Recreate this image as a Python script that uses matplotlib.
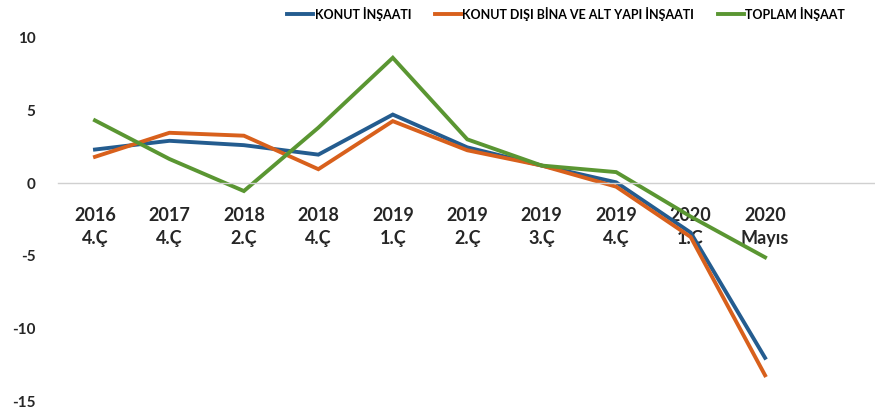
import matplotlib
matplotlib.use("Agg")
import matplotlib.pyplot as plt

categories = ["2016\n4.Ç", "2017\n4.Ç", "2018\n2.Ç", "2018\n4.Ç", "2019\n1.Ç",
              "2019\n2.Ç", "2019\n3.Ç", "2019\n4.Ç", "2020\n1.Ç", "2020\nMayıs"]
konut = [2.3, 2.9, 2.6, 1.95, 4.7, 2.45, 1.2, 0.05, -3.4, -12.0]
konut_disi = [1.8, 3.45, 3.25, 0.95, 4.25, 2.25, 1.2, -0.25, -3.7, -13.2]
toplam = [4.3, 1.65, -0.55, 3.8, 8.6, 3.0, 1.2, 0.75, -2.3, -5.1]
series_names = ["KONUT İNŞAATI", "KONUT DIŞI BİNA VE ALT YAPI İNŞAATI", "TOPLAM İNŞAAT"]
yticks = [-15, -10, -5, 0, 5, 10]

plt.rcParams['font.family'] = ['Lato', 'DejaVu Sans']

fig = plt.figure(figsize=(8.75, 4.2), dpi=100)
ax = fig.add_axes([0.066, 0.044, 0.936, 0.867])

x = list(range(len(categories)))
colors = ["#245C8F", "#D8601C", "#5A9632"]
for vals, name, c in zip([konut, konut_disi, toplam], series_names, colors):
    ax.plot(x, vals, color=c, lw=2.8, label=name, solid_joinstyle='miter')

for s in ['top', 'right', 'left']:
    ax.spines[s].set_visible(False)
ax.spines['bottom'].set_position(('data', 0))
ax.spines['bottom'].set_color('#d0d0d0')
ax.spines['bottom'].set_linewidth(1.0)

ax.set_xlim(-0.5, 10.5)
ax.set_ylim(-15, 10)
ax.set_yticks(yticks)
ax.set_yticklabels([str(v) for v in yticks])
ax.set_xticks(x)
ax.set_xticklabels(categories)
ax.tick_params(axis='x', length=0, pad=17)
ax.tick_params(axis='y', length=0, pad=16)
for lab in ax.get_xticklabels():
    lab.set_fontsize(13)
    lab.set_fontweight('bold')
    lab.set_color('#262626')
    lab.set_linespacing(1.45)
for lab in ax.get_yticklabels():
    lab.set_fontsize(11)
    lab.set_fontweight('bold')
    lab.set_color('#262626')

fig.legend(loc='center', bbox_to_anchor=(0.647, 0.967), ncol=3, frameon=False,
           prop={'size': 9, 'weight': 'bold'}, handlelength=2.1, handletextpad=0.1,
           columnspacing=1.9)

fig.savefig("out.png", dpi=100)
